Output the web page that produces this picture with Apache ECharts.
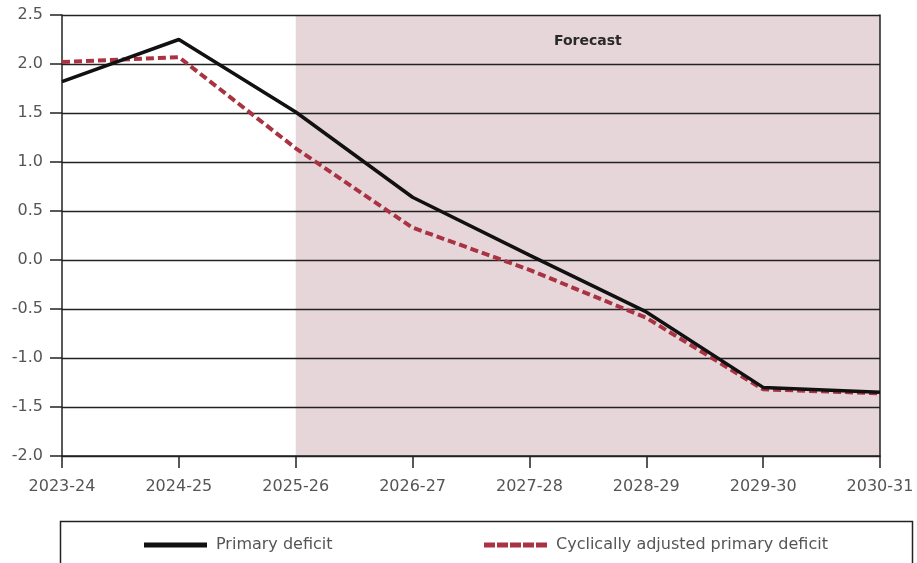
<!DOCTYPE html>
<html>
<head>
<meta charset="utf-8">
<script src="https://cdn.jsdelivr.net/npm/echarts@6/dist/echarts.min.js"></script>
<style>
  html, body { margin: 0; padding: 0; background: #fff; }
  #chart { width: 917px; height: 563px; }
</style>
</head>
<body>
<div id="chart"></div>
<script>
// Fiscal years on the horizontal axis
const years = ['2023-24', '2024-25', '2025-26', '2026-27', '2027-28', '2028-29', '2029-30', '2030-31'];
// Deficit as % of GDP
const primaryDeficit = [1.82, 2.25, 1.51, 0.64, 0.05, -0.53, -1.30, -1.35];
const cyclicallyAdjusted = [2.02, 2.07, 1.14, 0.33, -0.10, -0.59, -1.32, -1.36];
// Forecast period
const forecastStart = '2025-26';
const forecastEnd = '2030-31';

const FONT = 'DejaVu Sans';
const LINE_RED = '#a93343';
// Five short dashes for the dashed-line legend key
const dashIcon = 'path://M0,0h11v5h-11z M13,0h11v5h-11z M26,0h11v5h-11z M39,0h11v5h-11z M52,0h11v5h-11z';

const chart = echarts.init(document.getElementById('chart'));

const yCommon = { type: 'value', min: -2, max: 2.5, interval: 0.5, z: 2 };

chart.setOption({
  animation: false,
  textStyle: { fontFamily: FONT },
  grid: { left: 62, right: 37, top: 15, bottom: 107 },
  xAxis: {
    type: 'category', data: years, boundaryGap: false, z: 2,
    axisLine: { onZero: false, lineStyle: { color: '#222', width: 1.5 } },
    axisTick: { alignWithLabel: true, length: 12, lineStyle: { color: '#222', width: 1.5 } },
    axisLabel: { color: '#555', fontSize: 16, margin: 23, fontFamily: FONT }
  },
  yAxis: [
    Object.assign({}, yCommon, {
      position: 'left',
      axisLine: { show: true, lineStyle: { color: '#222', width: 1.5 } },
      axisTick: { show: true, length: 12, lineStyle: { color: '#222', width: 1.5 } },
      axisLabel: { color: '#555', fontSize: 16, margin: 19, fontFamily: FONT,
                   formatter: v => v.toFixed(1) },
      splitLine: { show: true, lineStyle: { color: '#222', width: 1.3 } }
    }),
    Object.assign({}, yCommon, {
      position: 'right',
      axisLine: { show: true, lineStyle: { color: '#222', width: 1.5 } },
      axisTick: { show: false },
      axisLabel: { show: false },
      splitLine: { show: false }
    })
  ],
  legend: [
    {
      data: [{ name: 'Primary deficit', icon: 'rect' }], left: 139, top: 532,
      itemWidth: 63, itemHeight: 5,
      textStyle: { color: '#555', fontSize: 16, fontFamily: FONT, padding: [0, 0, 0, 4] }
    },
    {
      data: [{ name: 'Cyclically adjusted primary deficit', icon: dashIcon }], left: 479, top: 532,
      itemWidth: 63, itemHeight: 5,
      textStyle: { color: '#555', fontSize: 16, fontFamily: FONT, padding: [0, 0, 0, 4] }
    }
  ],
  graphic: [
    {
      type: 'rect', left: 58, top: 519,
      shape: { width: 852, height: 43 },
      style: { fill: 'none', stroke: '#222', lineWidth: 1.5 }
    }
  ],
  series: [
    {
      name: 'Forecast period', type: 'line', data: [], z: 0,
      silent: true,
      markArea: {
        silent: true, z: 0,
        itemStyle: { color: '#e7d6d9' },
        label: {
          show: true, position: 'insideTop', distance: 19,
          color: '#2a2a2a', fontWeight: 'bold', fontSize: 14, fontFamily: FONT
        },
        data: [[{ xAxis: forecastStart, name: 'Forecast' }, { xAxis: forecastEnd }]]
      }
    },
    {
      name: 'Primary deficit', type: 'line', data: primaryDeficit, z: 6,
      symbol: 'none',
      lineStyle: { color: '#111', width: 3.5 },
      itemStyle: { color: '#111' }
    },
    {
      name: 'Cyclically adjusted primary deficit', type: 'line', data: cyclicallyAdjusted, z: 5,
      symbol: 'none',
      lineStyle: { color: LINE_RED, width: 4, type: [8, 4] },
      itemStyle: { color: LINE_RED }
    }
  ]
});
</script>
</body>
</html>
